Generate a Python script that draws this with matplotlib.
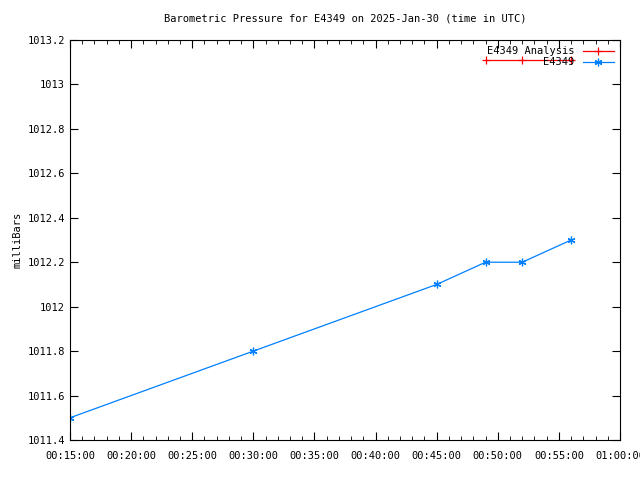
import datetime as dt
import matplotlib
matplotlib.use("Agg")
import matplotlib.pyplot as plt
import matplotlib.dates as mdates

day = dt.datetime(2025, 1, 30)

obs_times = ["00:15", "00:30", "00:45", "00:49", "00:52", "00:56"]
obs_values = [1011.5, 1011.8, 1012.1, 1012.2, 1012.2, 1012.3]

ana_times = ["00:49", "00:52", "00:56"]
ana_values = [1013.11, 1013.11, 1013.11]


def to_dt(s):
    h, m = s.split(":")
    return day + dt.timedelta(hours=int(h), minutes=int(m))


plt.rcParams["font.family"] = "DejaVu Sans Mono"
plt.rcParams["font.size"] = 7.5

fig = plt.figure(figsize=(6.4, 4.8), dpi=100)
ax = fig.add_axes([70 / 640, 40 / 480, 550 / 640, 400 / 480])

ax.plot([to_dt(t) for t in ana_times], ana_values, color="#ff0000", lw=0.9,
        marker="+", ms=6, mew=0.9, label="E4349 Analysis")
ax.plot([to_dt(t) for t in obs_times], obs_values, color="#0080ff", lw=0.9,
        marker=(6, 2, 0), ms=5.5, mew=0.9, label="E4349")

ax.set_xlim(to_dt("00:15"), day + dt.timedelta(hours=1))
ax.set_ylim(1011.4, 1013.2)
ax.set_yticks([1011.4 + 0.2 * i for i in range(10)])
ax.yaxis.set_major_formatter(plt.FuncFormatter(lambda v, p: f"{v:g}" if abs(v - round(v)) > 1e-6 else f"{round(v)}"))
ax.xaxis.set_major_locator(mdates.MinuteLocator(byminute=range(0, 60, 5)))
ax.xaxis.set_minor_locator(mdates.MinuteLocator())
ax.xaxis.set_major_formatter(mdates.DateFormatter("%H:%M:%S"))

ax.tick_params(which="both", direction="in", top=True, right=True)
ax.tick_params(which="major", length=6)
ax.tick_params(which="minor", length=3)
ax.tick_params(axis="x", pad=8)

ax.set_ylabel("milliBars")
ax.set_title("Barometric Pressure for E4349 on 2025-Jan-30 (time in UTC)", fontsize=7.5, pad=13)

ax.legend(loc="upper right", frameon=False, markerfirst=False, handlelength=3,
          borderaxespad=0.2, labelspacing=0.1)

fig.savefig("out.png", dpi=100)
